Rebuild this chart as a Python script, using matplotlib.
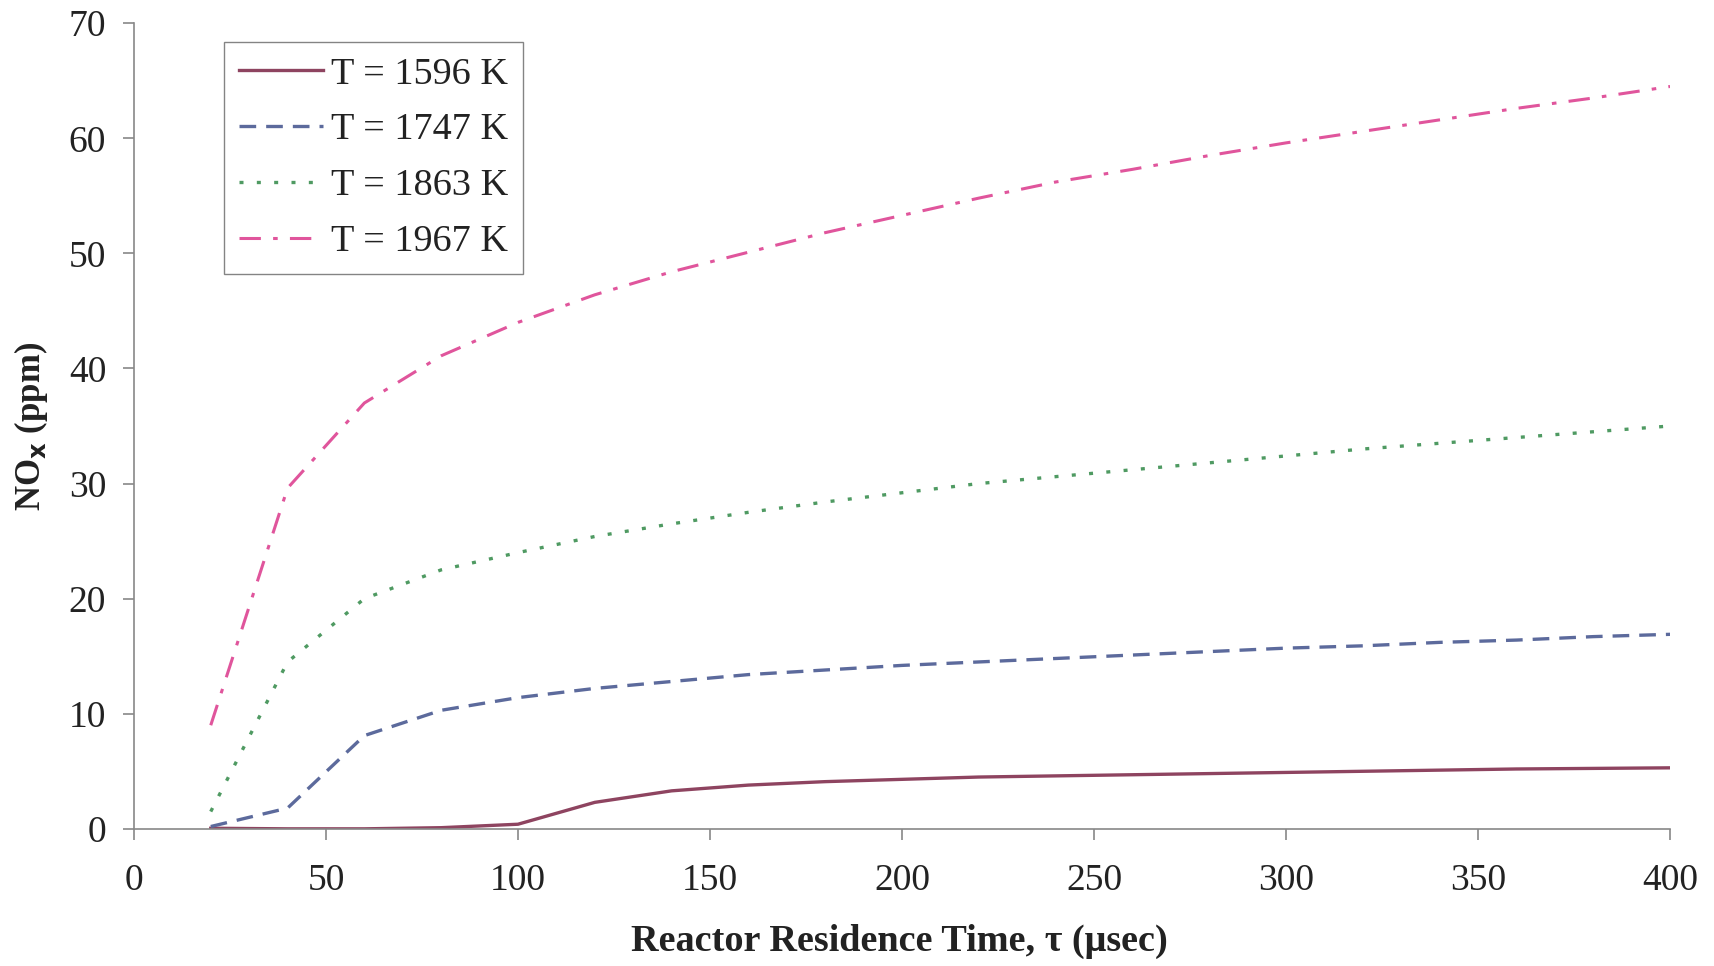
import matplotlib
matplotlib.use('Agg')
import matplotlib.pyplot as plt
import numpy as np

plt.rcParams['font.family'] = ['Liberation Serif', 'DejaVu Serif']

# residence time (usec)
tau = [20, 40, 60, 80, 100, 120, 140, 160, 180, 200,
       220, 240, 260, 280, 300, 320, 340, 360, 380, 400]

# NOx (ppm) at each temperature
nox_1596 = [0.05, 0.0, 0.0, 0.1, 0.4, 2.3, 3.3, 3.8, 4.1, 4.3,
            4.5, 4.6, 4.7, 4.8, 4.9, 5.0, 5.1, 5.2, 5.25, 5.3]
nox_1747 = [0.2, 1.8, 8.1, 10.3, 11.4, 12.2, 12.8, 13.4, 13.8, 14.2,
            14.5, 14.8, 15.1, 15.4, 15.7, 15.9, 16.2, 16.4, 16.7, 16.9]
nox_1863 = [1.5, 14.5, 20.0, 22.5, 24.0, 25.4, 26.5, 27.5, 28.4, 29.2,
            30.0, 30.6, 31.2, 31.8, 32.4, 33.0, 33.5, 34.0, 34.5, 35.0]
nox_1967 = [9.0, 29.6, 37.0, 41.1, 44.0, 46.4, 48.4, 50.1, 51.8, 53.3,
            54.8, 56.2, 57.3, 58.5, 59.6, 60.6, 61.6, 62.6, 63.5, 64.5]

labels = ['T = 1596 K', 'T = 1747 K', 'T = 1863 K', 'T = 1967 K']

fig = plt.figure(figsize=(17.15, 9.66), dpi=100)
ax = fig.add_axes([0.0781, 0.142, 0.8957, 0.834])

ax.plot(tau, nox_1596, color='#8e4460', lw=2.4, ls='-', label=labels[0])
ax.plot(tau, nox_1747, color='#5c6a9c', lw=2.4, ls=(0, (5, 3)), label=labels[1])
ax.plot(tau, nox_1863, color='#4f9a62', lw=2.4, ls=(0, (1.2, 4.0)), label=labels[2])
ax.plot(tau, nox_1967, color='#e0559c', lw=2.2, ls=(0, (7, 4, 1.5, 4)), label=labels[3])

ax.set_xlim(0, 400)
ax.set_ylim(0, 70)
ax.set_xticks(np.arange(0, 401, 50))
ax.set_yticks(np.arange(0, 71, 10))

for s in ['top', 'right']:
    ax.spines[s].set_visible(False)
for s in ['left', 'bottom']:
    ax.spines[s].set_color('#888888')
    ax.spines[s].set_linewidth(1.2)

ax.tick_params(direction='out', length=8, width=1.2, color='#888888',
               labelsize=27, labelcolor='#222222')
ax.tick_params(axis='x', pad=17)
ax.tick_params(axis='y', pad=12)

ax.set_xlabel('Reactor Residence Time, \u03c4 (\u03bcsec)', fontsize=27.5,
              fontweight='bold', color='#222222')
ax.xaxis.set_label_coords(0.498, -0.14)
ax.xaxis.label.set_va('center')
ax.set_ylabel('NO$_\\mathbf{x}$ (ppm)', fontsize=25, fontweight='bold',
              color='#222222')
ax.yaxis.set_label_coords(-0.067, 0.5)
ax.yaxis.label.set_va('center')

leg = ax.legend(loc='upper left', bbox_to_anchor=(0.0586, 0.977),
                fontsize=27.5, frameon=True, fancybox=False, handlelength=2.2,
                handletextpad=0.2, borderpad=0.4, labelspacing=0.55,
                borderaxespad=0)
leg.get_frame().set_edgecolor('#666666')
leg.get_frame().set_linewidth(1.0)
for t in leg.get_texts():
    t.set_color('#222222')

plt.savefig('out.png', dpi=100)
